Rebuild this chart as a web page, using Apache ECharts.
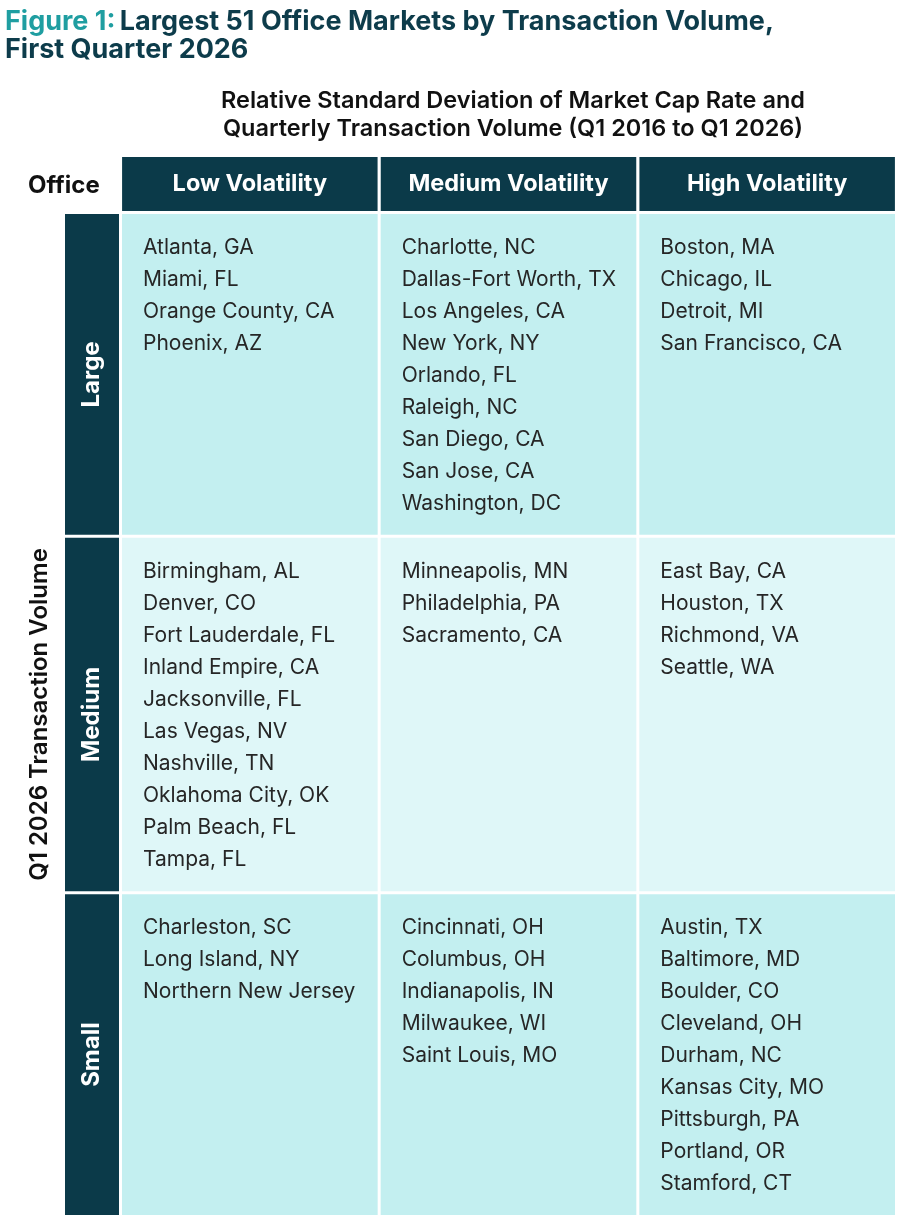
<!DOCTYPE html>
<html lang="en">
<head>
<meta charset="utf-8">
<title>Largest 51 Office Markets by Transaction Volume</title>
<script src="https://cdn.jsdelivr.net/npm/echarts@6/dist/echarts.min.js"></script>
<style>
    html, body { margin: 0; padding: 0; background: #fff; }
    #chart { width: 900px; height: 1221px; }
</style>
</head>
<body>
<div id="chart"></div>
<script>
var volatility = ['Low Volatility', 'Medium Volatility', 'High Volatility'];
var sizes = ['Large', 'Medium', 'Small'];

var largeLow = ['Atlanta, GA', 'Miami, FL', 'Orange County, CA', 'Phoenix, AZ'];
var largeMedium = ['Charlotte, NC', 'Dallas-Fort Worth, TX', 'Los Angeles, CA', 'New York, NY',
    'Orlando, FL', 'Raleigh, NC', 'San Diego, CA', 'San Jose, CA', 'Washington, DC'];
var largeHigh = ['Boston, MA', 'Chicago, IL', 'Detroit, MI', 'San Francisco, CA'];

var mediumLow = ['Birmingham, AL', 'Denver, CO', 'Fort Lauderdale, FL', 'Inland Empire, CA',
    'Jacksonville, FL', 'Las Vegas, NV', 'Nashville, TN', 'Oklahoma City, OK', 'Palm Beach, FL', 'Tampa, FL'];
var mediumMedium = ['Minneapolis, MN', 'Philadelphia, PA', 'Sacramento, CA'];
var mediumHigh = ['East Bay, CA', 'Houston, TX', 'Richmond, VA', 'Seattle, WA'];

var smallLow = ['Charleston, SC', 'Long Island, NY', 'Northern New Jersey'];
var smallMedium = ['Cincinnati, OH', 'Columbus, OH', 'Indianapolis, IN', 'Milwaukee, WI', 'Saint Louis, MO'];
var smallHigh = ['Austin, TX', 'Baltimore, MD', 'Boulder, CO', 'Cleveland, OH', 'Durham, NC',
    'Kansas City, MO', 'Pittsburgh, PA', 'Portland, OR', 'Stamford, CT'];

var cells = [
    [largeLow, largeMedium, largeHigh],
    [mediumLow, mediumMedium, mediumHigh],
    [smallLow, smallMedium, smallHigh]
];
var rowFill = ['#c3eff0', '#dff7f8', '#c3eff0'];

// each row is as tall as its longest list plus one line of padding
var rowStart = [];
var rowSpan = [];
var total = 0;
cells.forEach(function (row) {
    var n = Math.max.apply(null, row.map(function (c) { return c.length; })) + 1;
    rowStart.push(total);
    rowSpan.push(n);
    total += n;
});

var cellData = [];
var labelData = [];
for (var r = 0; r < sizes.length; r++) {
    labelData.push([0, rowStart[r], r]);
    for (var c = 0; c < volatility.length; c++) {
        cellData.push([c, rowStart[r], r]);
    }
}

var dark = '#0b3a49';
var gap = 1.5;
var font = 'Inter, "Noto Sans", sans-serif';

function cellBox(api, col, row) {
    var bw = api.size([1, 0])[0];
    var p0 = api.coord([col, rowStart[row]]);
    var p1 = api.coord([col, rowStart[row] + rowSpan[row]]);
    return {
        x: p0[0] - bw / 2 + gap,
        y: p0[1] + gap,
        width: bw - gap * 2,
        height: p1[1] - p0[1] - gap * 2
    };
}

var chart = echarts.init(document.getElementById('chart'), null, { renderer: 'canvas' });

var yBase = {
    type: 'value',
    inverse: true,
    min: 0,
    max: total,
    axisLine: { show: false },
    axisTick: { show: false },
    axisLabel: { show: false },
    splitLine: { show: false }
};

chart.setOption({
    backgroundColor: '#fff',
    animation: false,
    textStyle: { fontFamily: font },
    title: [{
        left: 0,
        top: 3,
        text: '{a|Figure 1:} {b|Largest 51 Office Markets by Transaction Volume,}\n{b|First Quarter 2026}',
        textStyle: {
            rich: {
                a: { color: '#1f9ea1', fontSize: 27, fontWeight: 'bold', lineHeight: 28, fontFamily: font },
                b: { color: '#0d3c4b', fontSize: 27, fontWeight: 'bold', lineHeight: 28, fontFamily: font }
            }
        }
    }, {
        left: 508,
        top: 82,
        textAlign: 'center',
        text: 'Relative Standard Deviation of Market Cap Rate and\nQuarterly Transaction Volume (Q1 2016 to Q1 2026)',
        textStyle: { color: '#111', fontSize: 23.5, fontWeight: 600, lineHeight: 28, align: 'center', fontFamily: font }
    }, {
        left: 23,
        top: 169,
        text: 'Office',
        textStyle: { color: '#111', fontSize: 24, fontWeight: 'bold', fontFamily: font }
    }],
    grid: [
        { left: 63.5, width: 57, top: 212.5, bottom: 4.5 },
        { left: 120.5, right: 3.5, top: 212.5, bottom: 4.5 }
    ],
    xAxis: [{
        gridIndex: 0,
        type: 'category',
        data: [''],
        show: false
    }, {
        gridIndex: 1,
        type: 'category',
        position: 'top',
        data: volatility,
        axisLine: { show: false },
        axisTick: { show: false },
        axisLabel: {
            interval: 0,
            hideOverlap: false,
            margin: 1.5,
            color: '#fff',
            fontSize: 23.5,
            fontWeight: 'bold',
            fontFamily: font,
            backgroundColor: dark,
            width: 255.5,
            height: 54,
            lineHeight: 54,
            align: 'center'
        }
    }],
    yAxis: [
        Object.assign({}, yBase, {
            gridIndex: 0,
            name: 'Q1 2026 Transaction Volume',
            nameLocation: 'middle',
            nameRotate: 90,
            nameGap: 12,
            nameTextStyle: { color: '#111', fontSize: 24, fontWeight: 600, fontFamily: font }
        }),
        Object.assign({}, yBase, { gridIndex: 1 })
    ],
    series: [{
        type: 'custom',
        xAxisIndex: 0,
        yAxisIndex: 0,
        data: labelData,
        renderItem: function (params, api) {
            var row = api.value(2);
            var box = cellBox(api, 0, row);
            return {
                type: 'group',
                children: [{
                    type: 'rect',
                    shape: box,
                    style: { fill: dark }
                }, {
                    type: 'text',
                    x: box.x + box.width / 2,
                    y: box.y + box.height / 2,
                    rotation: Math.PI / 2,
                    style: {
                        text: sizes[row],
                        fill: '#fff',
                        font: 'bold 24px ' + font,
                        align: 'center',
                        verticalAlign: 'middle'
                    }
                }]
            };
        }
    }, {
        type: 'custom',
        xAxisIndex: 1,
        yAxisIndex: 1,
        data: cellData,
        renderItem: function (params, api) {
            var col = api.value(0);
            var row = api.value(2);
            var box = cellBox(api, col, row);
            var children = [{
                type: 'rect',
                shape: box,
                style: { fill: rowFill[row] }
            }];
            cells[row][col].forEach(function (name, i) {
                children.push({
                    type: 'text',
                    x: box.x + 21,
                    y: box.y + 34 + i * 32,
                    style: {
                        text: name,
                        fill: '#262626',
                        font: '21px ' + font,
                        verticalAlign: 'middle'
                    }
                });
            });
            return { type: 'group', children: children };
        }
    }]
});
</script>
</body>
</html>
